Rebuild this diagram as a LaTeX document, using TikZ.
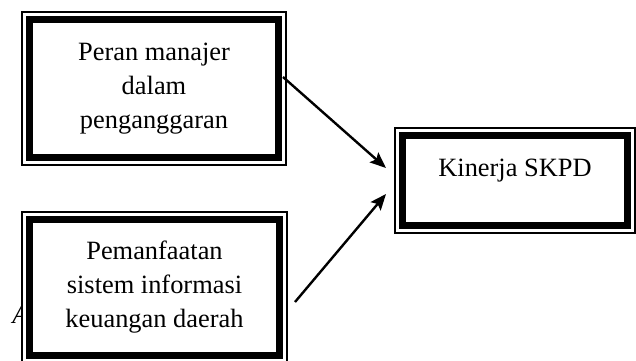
\documentclass[tikz,border=0pt]{standalone}
\usepackage{fontspec}
\setmainfont{Liberation Serif}
\usepackage{tikz}
\usetikzlibrary{arrows.meta,calc}
\tikzstyle{varbox}=[rectangle,draw,fill=white,line width=0.75pt,inner sep=0pt,outer sep=0pt,align=center,
  path picture={\draw[line width=3.4pt] ($(path picture bounding box.south west)+(3.75pt,3.75pt)$) rectangle ($(path picture bounding box.north east)-(3.75pt,3.75pt)$);}]
\tikzstyle{edge} = [draw,line width=1.2pt,-{Stealth[length=8pt,width=6.5pt,inset=1.5pt]}]

\begin{document}
\begin{tikzpicture}[x=0.5pt,y=-0.5pt,font=\fontsize{13.2}{17}\selectfont]

    \useasboundingbox (0,0) rectangle (636,360);

    % stray letter behind the lower box
    \node[font=\fontsize{13.2}{17}\selectfont\itshape, anchor=base west, inner sep=0pt] (mark) at (12,323) {A};

    \node[varbox, minimum width=132pt, minimum height=76.5pt] (peran) at (154,88.5) {Peran manajer\\dalam\\penganggaran};
    \node[varbox, minimum width=132.5pt, minimum height=75.5pt] (sikd) at (154.5,287.5) {Pemanfaatan\\sistem informasi\\keuangan daerah};
    \node[varbox, minimum width=120pt, minimum height=52.5pt, text height=9pt, text depth=13pt] (kinerja) at (515,180.5) {Kinerja SKPD};

    \path[edge] ($(peran.east)+(-3,-11.5)$) -- ($(kinerja.west)+(-9,-12.5)$);
    \path[edge] ($(sikd.east)+(8,14.5)$) -- ($(kinerja.west)+(-9,13.5)$);

\end{tikzpicture}
\end{document}
